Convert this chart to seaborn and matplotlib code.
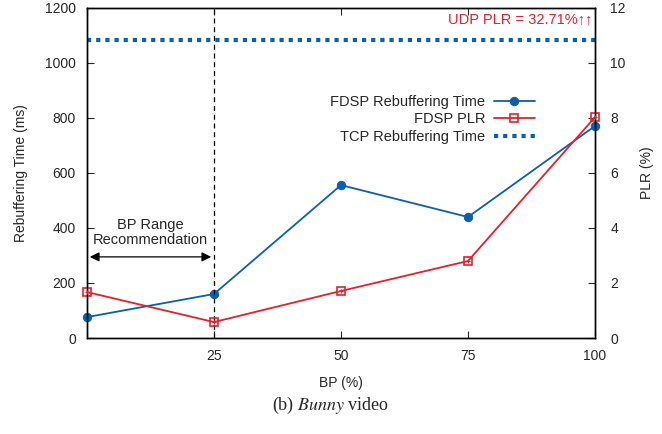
import matplotlib
matplotlib.use("Agg")
import matplotlib.pyplot as plt
import seaborn as sns
import pandas as pd

sns.set_style("ticks")
plt.rcParams['font.family'] = ['Liberation Sans', 'DejaVu Sans']

bp = [0, 25, 50, 75, 100]
rebuffer_ms = [76, 160, 556, 440, 771]
plr_pct = [1.67, 0.58, 1.71, 2.80, 8.03]
tcp_rebuffer_ms = 1085
udp_plr_label = "UDP PLR = 32.71%\u2191\u2191"

blue = "#0a5fb0"
red = "#e3202c"

df = pd.DataFrame({"BP": bp, "rebuf": rebuffer_ms, "plr": plr_pct})

fig = plt.figure(figsize=(6.62, 4.34), dpi=100)
ax = fig.add_axes([87 / 662, 1 - 338 / 434, (595 - 87) / 662, (338 - 8) / 434])
ax2 = ax.twinx()

sns.lineplot(data=df, x="BP", y="rebuf", ax=ax, color=blue, marker="o",
             markersize=6, markeredgecolor=blue, linewidth=1.3, clip_on=False,
             label="FDSP Rebuffering Time", legend=False)
sns.lineplot(data=df, x="BP", y="plr", ax=ax2, color=red, marker="s",
             markersize=6, markerfacecolor="none", markeredgecolor=red,
             markeredgewidth=1.2, linewidth=1.3, clip_on=False,
             label="FDSP PLR", legend=False)
# small cross inside each square marker
sns.scatterplot(data=df, x="BP", y="plr", ax=ax2, color=red, marker="+",
                s=10, linewidth=0.8, clip_on=False, legend=False, zorder=5)
ax.axhline(tcp_rebuffer_ms, color=blue, linestyle=(0, (1, 1.2)), linewidth=3,
           label="TCP Rebuffering Time")

ax.axvline(25, color="black", linestyle=(0, (4, 3)), linewidth=0.9)
ax.annotate("", xy=(0, 295), xytext=(25, 295),
            arrowprops=dict(arrowstyle="<|-|>", color="black", lw=0.9,
                            mutation_scale=14))
ax.text(12.5, 330, "BP Range\nRecommendation", ha="center", va="bottom",
        fontsize=10.5, linespacing=1.1)

ax.text(99.5, 1160, udp_plr_label, ha="right", va="center", color=red,
        fontsize=10.5)

ax.set_xlim(0, 100)
ax.set_ylim(0, 1200)
ax2.set_ylim(0, 12)
ax.set_xticks([0, 25, 50, 75, 100])
ax.set_xticklabels(["", "25", "50", "75", "100"])
ax.set_yticks(range(0, 1201, 200))
ax2.set_yticks(range(0, 13, 2))
ax.set_xlabel("BP (%)", fontsize=10, labelpad=9)
ax.set_ylabel("Rebuffering Time (ms)", fontsize=10, labelpad=12)
ax2.set_ylabel("PLR (%)", fontsize=10, labelpad=10)

for a in (ax, ax2):
    for s in a.spines.values():
        s.set_visible(True)
        s.set_linewidth(1.0)
        s.set_color("black")
    a.tick_params(direction="in", length=5, width=0.8, labelsize=10, pad=8)
ax2.tick_params(axis="y", pad=11)
ax.tick_params(axis="x", top=True, pad=8)

h1, l1 = ax.get_legend_handles_labels()
h2, l2 = ax2.get_legend_handles_labels()
handles = [h1[0], h2[0], h1[1]]
labels = [l1[0], l2[0], l1[1]]
ax2.legend(handles, labels, loc="upper right", bbox_to_anchor=(0.893, 0.755),
           frameon=False, markerfirst=False, fontsize=10.5, handlelength=2.8,
           handletextpad=0.6, labelspacing=0.25, borderaxespad=0)

fig.text(0.5, 1 - 405 / 434, "(b) $\\mathit{Bunny}$ video", ha="center",
         va="center", fontsize=13, family="Liberation Serif",
         math_fontfamily="stix")

fig.savefig("out.png", dpi=100)
